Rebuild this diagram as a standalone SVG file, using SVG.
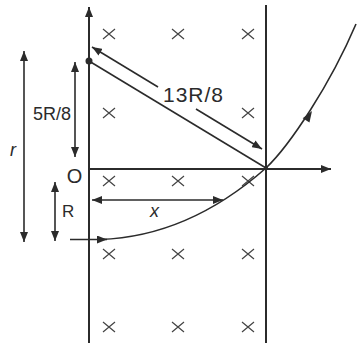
<svg xmlns="http://www.w3.org/2000/svg" xmlns:xlink="http://www.w3.org/1999/xlink" width="357" height="343" viewBox="0 0 357 343">
<style>
.ln{stroke:#2b2b2b;stroke-width:2;fill:none}
.ar{stroke:#2b2b2b;stroke-width:1.6;fill:none}
.cr{stroke:#444;stroke-width:1.2;fill:none}
.t{font-family:"Liberation Sans",Arial,sans-serif;fill:#2b2b2b}
</style>
<defs>
<marker id="ah" viewBox="0 0 10 8" refX="10" refY="4" markerWidth="10" markerHeight="8" markerUnits="userSpaceOnUse" orient="auto-start-reverse">
<path d="M0,0 L10,4 L0,8 z" fill="#2b2b2b"/>
</marker>
<path id="x" class="cr" d="M-6,-5 L6,5 M6,-5 L-6,5"/>
</defs>
<rect width="357" height="343" fill="#ffffff"/>
<g id="field">
<use xlink:href="#x" x="109" y="34"/><use xlink:href="#x" x="178" y="34"/><use xlink:href="#x" x="248" y="34"/>
<use xlink:href="#x" x="109" y="113"/><use xlink:href="#x" x="248" y="113"/>
<use xlink:href="#x" x="109" y="181"/><use xlink:href="#x" x="178" y="181"/><use xlink:href="#x" x="248" y="181"/>
<use xlink:href="#x" x="109" y="254"/><use xlink:href="#x" x="178" y="254"/><use xlink:href="#x" x="248" y="254"/>
<use xlink:href="#x" x="109" y="327"/><use xlink:href="#x" x="178" y="327"/><use xlink:href="#x" x="248" y="327"/>
</g>
<g id="connectors">
<line class="ln" x1="89" y1="343" x2="89" y2="7" marker-end="url(#ah)"/>
<line class="ln" x1="266" y1="5" x2="266" y2="343"/>
<line class="ln" x1="89" y1="169" x2="331" y2="169" marker-end="url(#ah)"/>
<line class="ar" x1="89" y1="61" x2="266" y2="168"/>
<line class="ar" x1="158" y1="87" x2="92" y2="47" marker-end="url(#ah)"/>
<line class="ar" x1="196" y1="109" x2="262" y2="149" marker-end="url(#ah)"/>
<line class="ar" x1="24" y1="51" x2="24" y2="242" marker-start="url(#ah)" marker-end="url(#ah)"/>
<line class="ar" x1="75" y1="62" x2="75" y2="157" marker-start="url(#ah)" marker-end="url(#ah)"/>
<line class="ar" x1="55" y1="182" x2="55" y2="241" marker-start="url(#ah)" marker-end="url(#ah)"/>
<line class="ar" x1="92" y1="200" x2="223" y2="200" marker-start="url(#ah)" marker-end="url(#ah)"/>
<line class="ar" x1="70" y1="239.5" x2="107" y2="239.5" marker-end="url(#ah)"/>
<path class="ar" d="M100,239.5 C175,237 232,198 266,168 C290,145 330,85 356,24"/>
<polygon points="0,0 -11,-4 -11,4" fill="#2b2b2b" transform="translate(312,111) rotate(-57.5)"/>
<circle cx="89" cy="61" r="3.5" fill="#2b2b2b"/>
<circle cx="266" cy="168" r="2" fill="#2b2b2b"/>
</g>
<g id="labels">
<text class="t" x="13" y="156" font-size="18" font-style="italic" text-anchor="middle">r</text>
<text class="t" x="33" y="120" font-size="18">5R/8</text>
<text class="t" x="163" y="102" font-size="21" textLength="60">13R/8</text>
<text class="t" x="74.5" y="183" font-size="20" text-anchor="middle">O</text>
<text class="t" x="62" y="217" font-size="17">R</text>
<text class="t" x="150" y="217" font-size="18" font-style="italic">x</text>
</g>
</svg>
